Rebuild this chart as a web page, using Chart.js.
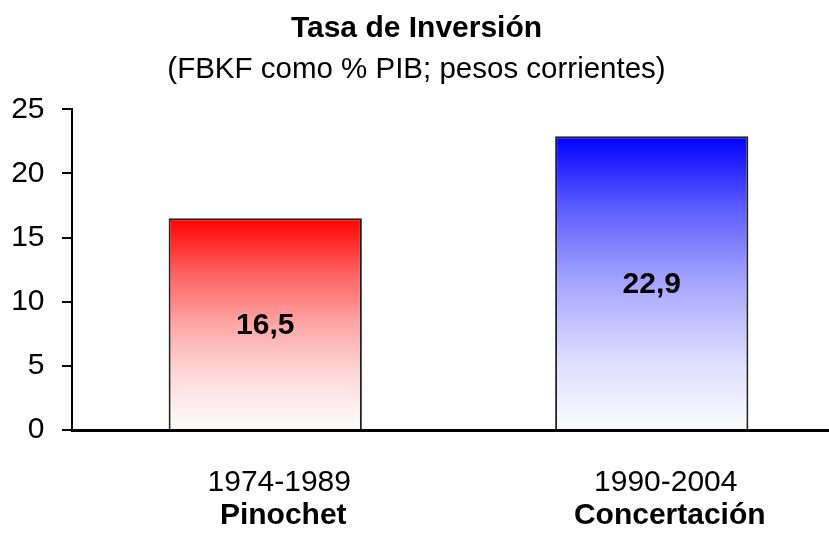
<!DOCTYPE html>
<html>
<head>
<meta charset="utf-8">
<script src="https://cdn.jsdelivr.net/npm/chart.js@4"></script>
<style>
  html, body { margin: 0; padding: 0; background: #fff; overflow: hidden; }
  #wrap { position: relative; width: 829px; height: 534px; overflow: hidden; }
  #chart { position: absolute; left: -12px; top: 0; }
</style>
</head>
<body>
<div id="wrap"><canvas id="chart" width="857" height="534"></canvas></div>
<script>
const categories = ['1974-1989', '1990-2004'];
const periodNames = ['Pinochet', 'Concertación'];
const investmentRate = [16.5, 22.9];
const yTickValues = [0, 5, 10, 15, 20, 25];

const barColors = [[255, 0, 0], [0, 0, 255]];
// how far each stop is faded to white (top of bar -> bottom)
const fadeStops = [[0, 0], [0.25, 0.37], [0.5, 0.65], [0.75, 0.86], [1, 0.985]];

const FONT = '"Liberation Sans", Arial, Helvetica, sans-serif';
Chart.defaults.font.family = FONT;
Chart.defaults.color = '#000';

function barGradient(context) {
    const chart = context.chart;
    if (!chart.chartArea) return null;
    const y = chart.scales.y;
    const top = y.getPixelForValue(investmentRate[context.dataIndex]);
    const bottom = y.getPixelForValue(0);
    const g = chart.ctx.createLinearGradient(0, top, 0, bottom);
    const c = barColors[context.dataIndex];
    fadeStops.forEach(([stop, mix]) => {
        const ch = c.map(v => Math.round(v + (255 - v) * mix));
        g.addColorStop(stop, `rgb(${ch[0]}, ${ch[1]}, ${ch[2]})`);
    });
    return g;
}

// value labels in the middle of each bar
const valueLabels = {
    id: 'valueLabels',
    afterDatasetsDraw(chart) {
        const ctx = chart.ctx;
        const meta = chart.getDatasetMeta(0);
        ctx.save();
        ctx.font = 'bold 30px ' + FONT;
        ctx.fillStyle = '#000';
        ctx.textAlign = 'center';
        ctx.textBaseline = 'middle';
        meta.data.forEach((bar, i) => {
            const p = bar.getProps(['x', 'y', 'base'], true);
            ctx.fillText(investmentRate[i].toFixed(1).replace('.', ','), p.x, (p.y + p.base) / 2 + 2);
        });
        ctx.restore();
    }
};

new Chart(document.getElementById('chart'), {
    type: 'bar',
    data: {
        labels: categories,
        datasets: [{
            data: investmentRate,
            backgroundColor: barGradient,
            borderColor: '#222',
            borderWidth: 2,
            categoryPercentage: 1,
            barPercentage: 0.5
        }]
    },
    options: {
        responsive: false,
        animation: false,
        layout: { padding: 0 },
        scales: {
            y: {
                min: 0,
                max: 25,
                afterBuildTicks: scale => { scale.ticks = yTickValues.map(v => ({ value: v })); },
                afterFit: scale => { scale.width = 84; },
                grid: { drawOnChartArea: false, drawTicks: true, tickLength: 10, color: '#000', lineWidth: 2 },
                border: { display: true, color: '#000', width: 2 },
                ticks: { font: { size: 30 }, padding: 17.5, color: '#000' }
            },
            x: {
                grid: { display: false, drawTicks: false },
                border: { display: true, color: '#000', width: 3, z: 1 },
                afterFit: scale => { scale.height = 68; },
                ticks: { font: { size: 30 }, padding: 35, labelOffset: 14, color: '#000', maxRotation: 0 }
            },
            x2: {
                type: 'category',
                labels: periodNames,
                position: 'bottom',
                offset: true,
                weight: 1,
                grid: { display: false, drawTicks: false },
                border: { display: false },
                afterFit: scale => { scale.height = 36; },
                ticks: { font: { size: 30, weight: 'bold' }, padding: 0, labelOffset: 18, color: '#000', maxRotation: 0 }
            }
        },
        plugins: {
            legend: { display: false },
            tooltip: { enabled: false },
            title: {
                display: true,
                text: 'Tasa de Inversión',
                color: '#000',
                font: { size: 30, weight: 'bold' },
                padding: { top: 10.5, bottom: 0 }
            },
            subtitle: {
                display: true,
                text: '(FBKF como % PIB; pesos corrientes)',
                color: '#000',
                font: { size: 29.5, weight: 'normal' },
                padding: { top: 5.8, bottom: 21.6 }
            }
        }
    },
    plugins: [valueLabels]
});
</script>
</body>
</html>
